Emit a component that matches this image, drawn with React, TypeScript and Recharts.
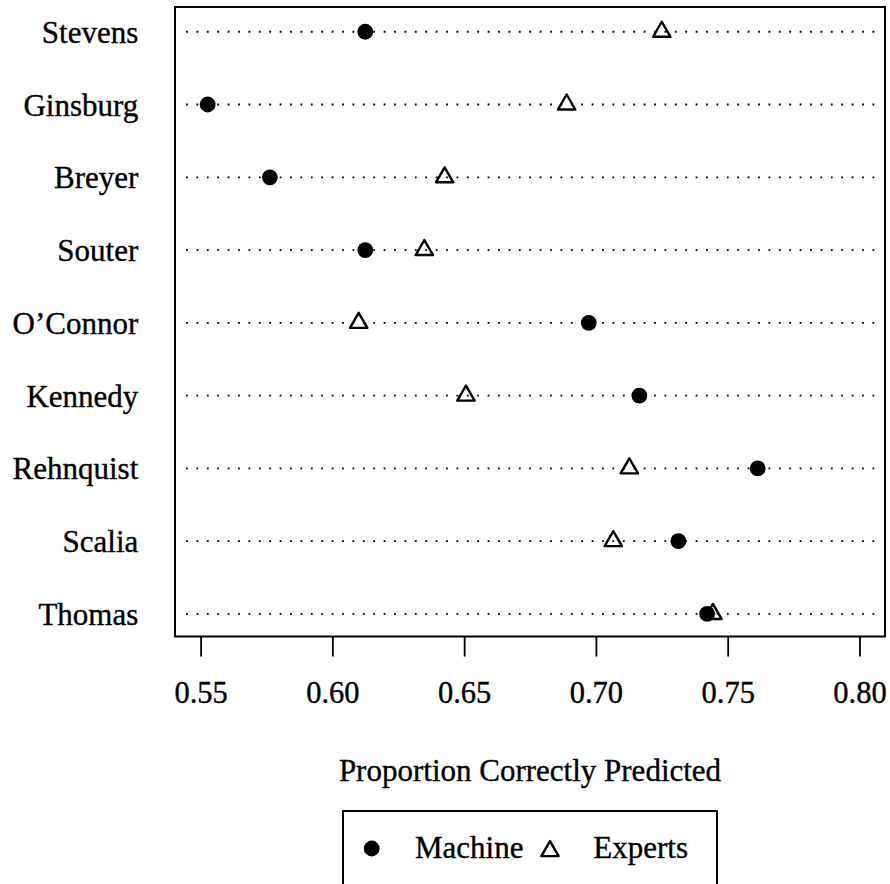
import React from "react"
import { ScatterChart, Scatter, XAxis, YAxis, ReferenceLine, ReferenceArea, Legend } from "recharts"

// Justices, top to bottom
const JUSTICES = ["Stevens", "Ginsburg", "Breyer", "Souter", "O’Connor", "Kennedy", "Rehnquist", "Scalia", "Thomas"]

// Proportion correctly predicted
const MACHINE = [0.6123, 0.5525, 0.5761, 0.6123, 0.6971, 0.7163, 0.7612, 0.7311, 0.742]
const EXPERTS = [0.7248, 0.6887, 0.6424, 0.6347, 0.6098, 0.6505, 0.7125, 0.7064, 0.7442]

const X_TICKS = [0.55, 0.6, 0.65, 0.7, 0.75, 0.8]
const SERIES = ["Machine", "Experts"]

// axis ranges
const X_MIN = 0.5401
const X_MAX = 0.8095
const Y_MIN = -0.34
const Y_MAX = 8.31
const DOT_START = 0.5443
const DOT_END = 0.8065

const FONT = "'Liberation Serif', 'Times New Roman', serif"
// scanned look: text a touch heavier
const TEXT_STYLE = { fill: "#000", stroke: "#000", strokeWidth: 0.35, fontFamily: FONT }

const machinePts = MACHINE.map((v, i) => ({ x: v, y: i }))
const expertPts = EXPERTS.map((v, i) => ({ x: v, y: i }))

const Dot = (props: any) => <circle cx={props.cx} cy={props.cy} r={7.9} fill="#000" />

const Tri = (props: any) => {
  const { cx, cy } = props
  const r = 10
  const h = 8.66
  return (
    <polygon
      points={`${cx},${cy - r} ${cx - h},${cy + r / 2} ${cx + h},${cy + r / 2}`}
      fill="none"
      stroke="#000"
      strokeWidth={2.4}
      strokeLinejoin="round"
    />
  )
}

const LegendBox = () => (
  <div
    style={{
      width: 376,
      height: 82,
      border: "2px solid #000",
      boxSizing: "border-box",
      background: "#fff",
    }}
  >
    <svg width={372} height={78} style={{ display: "block" }}>
      <Dot cx={27.7} cy={36.5} />
      <text x={71} y={46.3} fontSize={31} {...TEXT_STYLE}>
        {SERIES[0]}
      </text>
      <Tri cx={206} cy={39.1} />
      <text x={249.3} y={46.3} fontSize={31} {...TEXT_STYLE}>
        {SERIES[1]}
      </text>
    </svg>
  </div>
)

export default function App() {
  return (
    <div style={{ position: "absolute", left: 0, top: 0, width: 890, height: 884, overflow: "hidden", background: "#fff" }}>
      <ScatterChart width={890} height={884} margin={{ top: 7, right: 5, left: 0, bottom: 187.5 }}>
        <XAxis
          type="number"
          dataKey="x"
          domain={[X_MIN, X_MAX]}
          ticks={X_TICKS}
          interval={0}
          height={60}
          stroke="#000"
          axisLine={false}
          tickLine={{ stroke: "#000", strokeWidth: 1.8 }}
          tickSize={20}
          tickMargin={25.2}
          tickFormatter={(v: number) => v.toFixed(2)}
          tick={{ ...TEXT_STYLE, fontSize: 30.5 }}
          label={{
            value: "Proportion Correctly Predicted",
            position: "insideTop",
            offset: 122.5,
            fontSize: 31,
            ...TEXT_STYLE,
          }}
        />
        <YAxis
          type="number"
          dataKey="y"
          domain={[Y_MIN, Y_MAX]}
          reversed
          ticks={JUSTICES.map((_, i) => i)}
          interval={0}
          width={175}
          axisLine={false}
          tickLine={false}
          tickSize={0}
          tickMargin={36.7}
          tickFormatter={(v: number) => JUSTICES[v] ?? ""}
          tick={{ ...TEXT_STYLE, fontSize: 31 }}
        />
        {JUSTICES.map((name, i) => (
          <ReferenceLine
            key={name}
            segment={[
              { x: DOT_START, y: i },
              { x: DOT_END, y: i },
            ]}
            stroke="#000"
            strokeWidth={1.8}
            strokeDasharray="1.8 8.6"
          />
        ))}
        <ReferenceArea
          x1={X_MIN}
          x2={X_MAX}
          y1={Y_MIN}
          y2={Y_MAX}
          fill="none"
          fillOpacity={0}
          stroke="#000"
          strokeWidth={2}
        />
        <Scatter name={SERIES[0]} data={machinePts} shape={Dot} isAnimationActive={false} />
        <Scatter name={SERIES[1]} data={expertPts} shape={Tri} isAnimationActive={false} />
        <Legend
          layout="horizontal"
          verticalAlign="middle"
          align="center"
          content={<LegendBox />}
          wrapperStyle={{ left: 342, top: 810, width: 376 }}
        />
      </ScatterChart>
    </div>
  )
}
